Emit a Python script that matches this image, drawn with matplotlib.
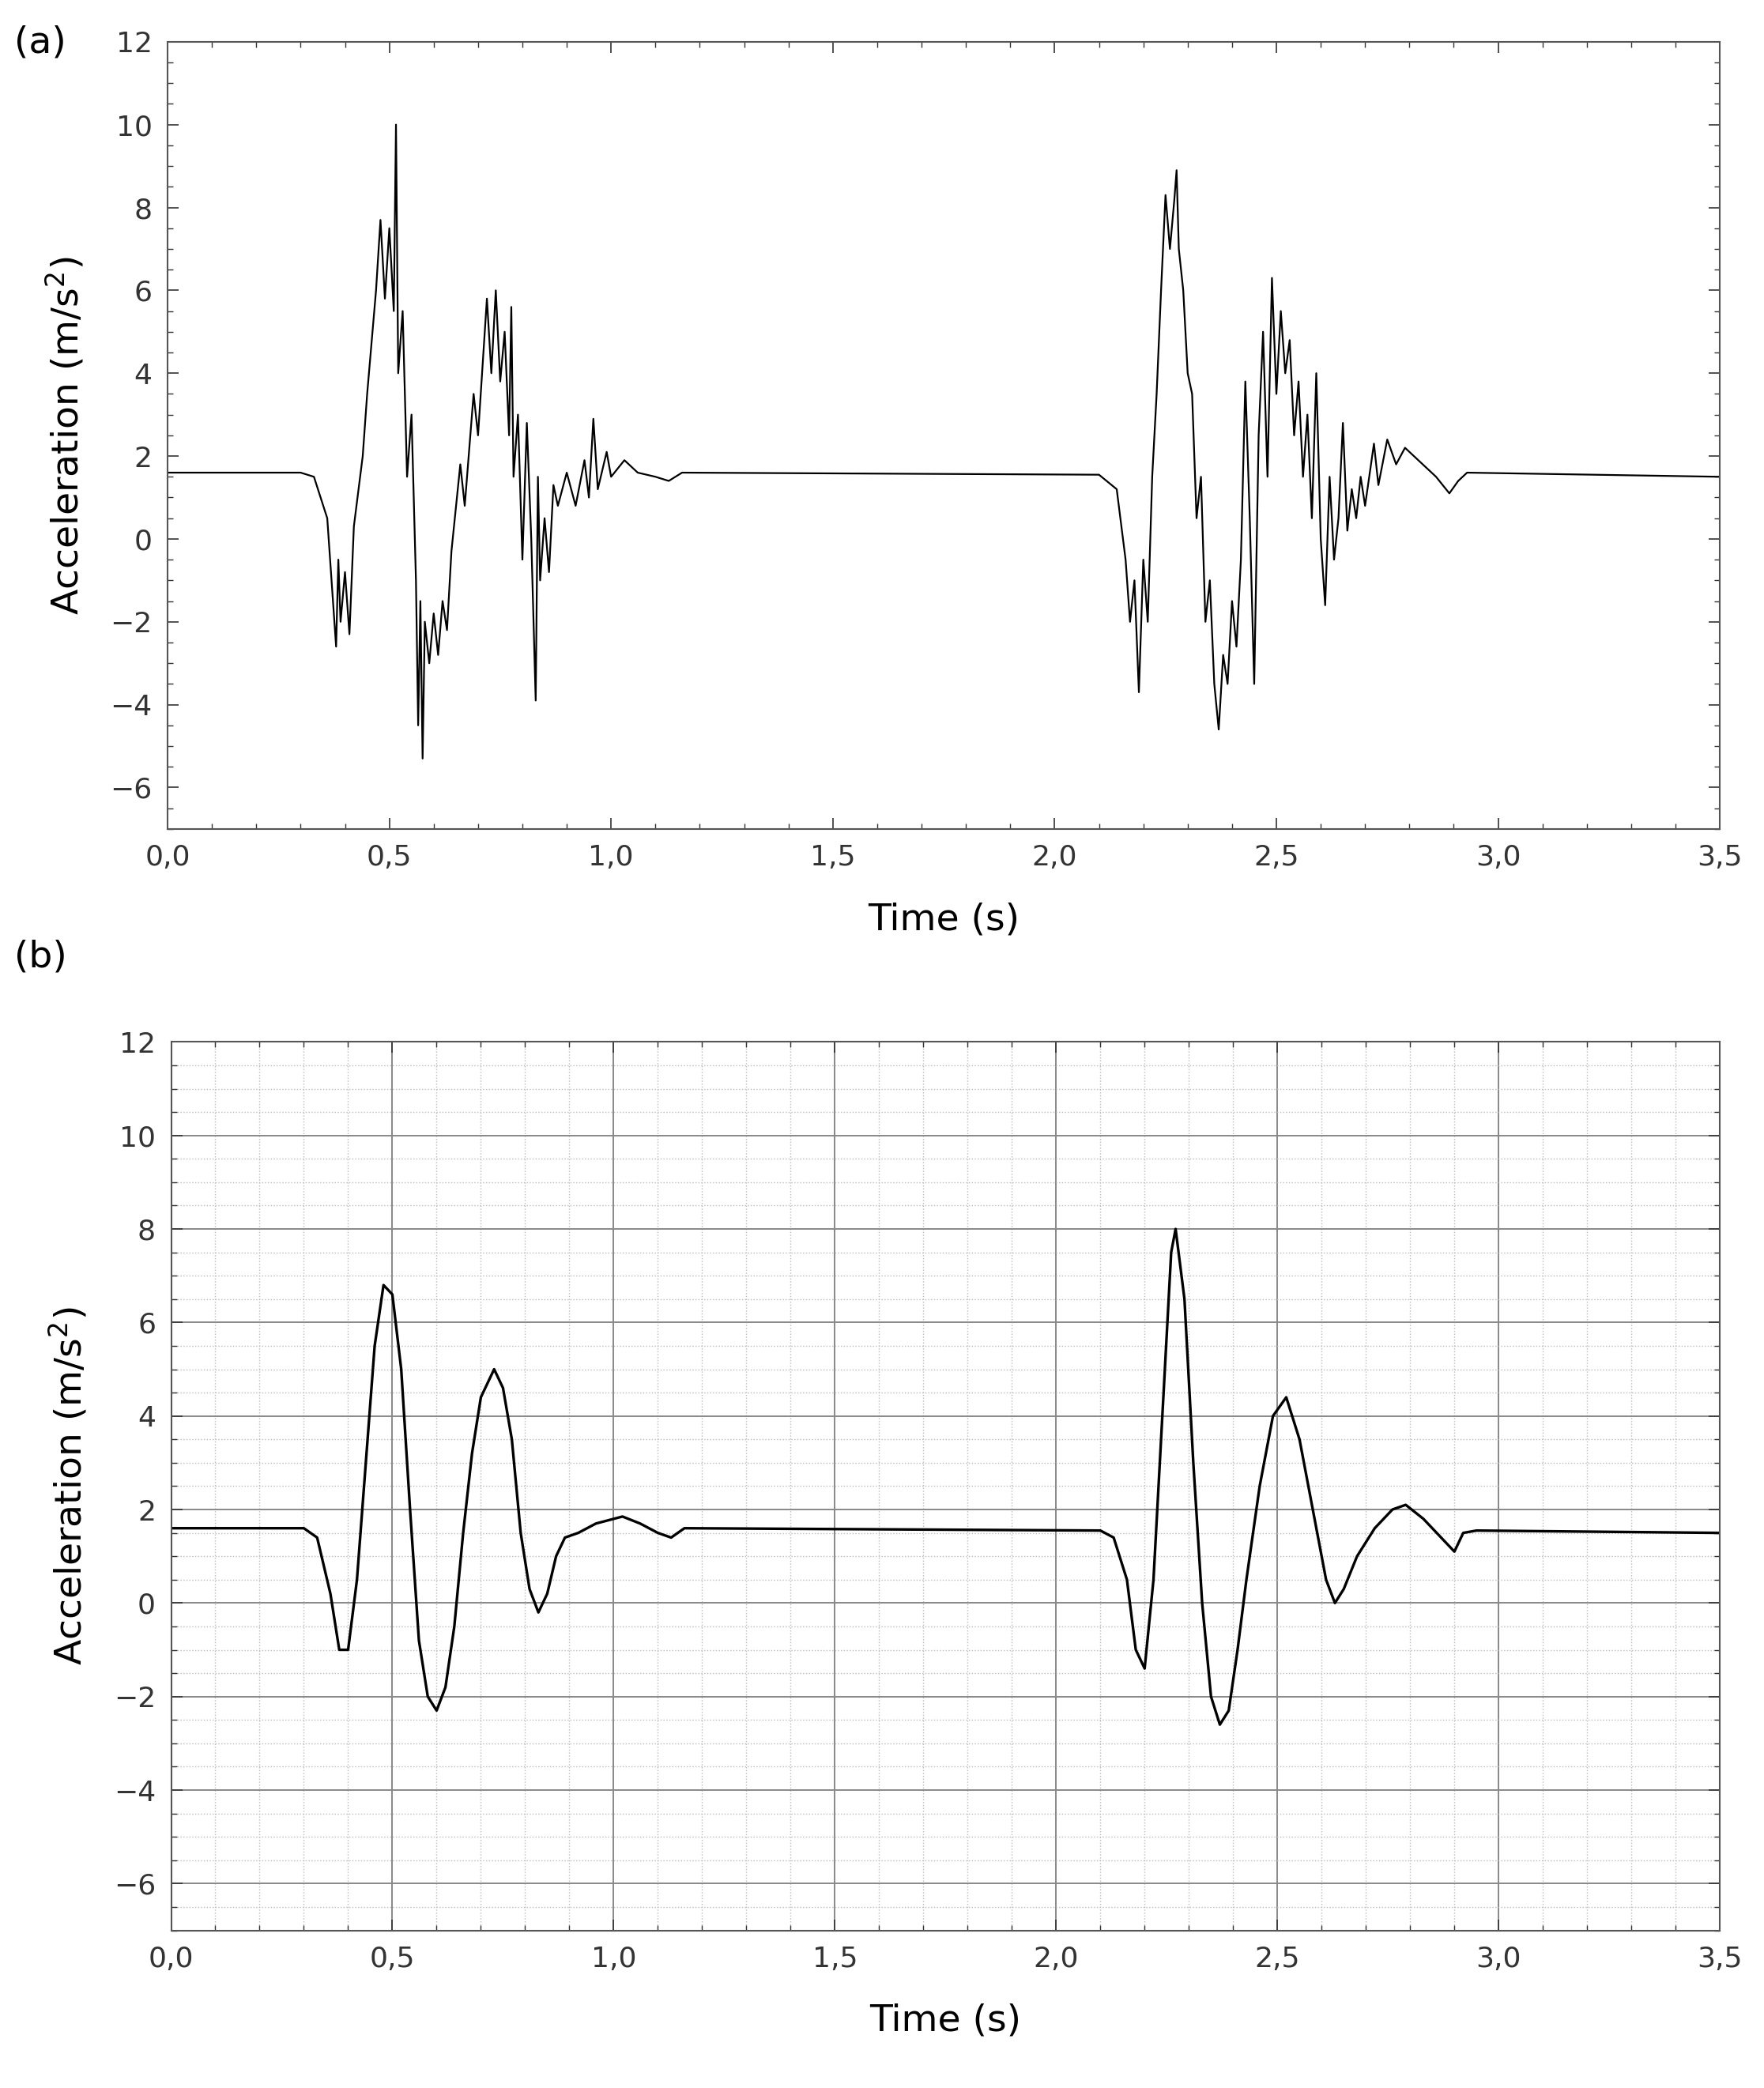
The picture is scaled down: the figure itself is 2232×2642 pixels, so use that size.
import matplotlib.pyplot as plt
from matplotlib.ticker import MultipleLocator, FuncFormatter

# --- data ---
t_raw = [0.0, 0.30, 0.33, 0.36, 0.38, 0.385, 0.39, 0.40, 0.41, 0.42, 0.44, 0.45, 0.47, 0.48,
         0.49, 0.50, 0.51, 0.515, 0.52, 0.53, 0.54, 0.55, 0.56, 0.565, 0.57, 0.575, 0.58,
         0.59, 0.60, 0.61, 0.62, 0.63, 0.64, 0.66, 0.67, 0.69, 0.70, 0.72, 0.73, 0.74, 0.75,
         0.76, 0.77, 0.775, 0.78, 0.79, 0.80, 0.81, 0.82, 0.83, 0.835, 0.84, 0.85, 0.86,
         0.87, 0.88, 0.90, 0.92, 0.94, 0.95, 0.96, 0.97, 0.99, 1.00, 1.03, 1.06, 1.10, 1.13,
         1.16, 2.10, 2.14, 2.16, 2.17, 2.18, 2.19, 2.20, 2.21, 2.22, 2.23, 2.24, 2.25, 2.26,
         2.27, 2.275, 2.28, 2.29, 2.30, 2.31, 2.32, 2.33, 2.34, 2.35, 2.36, 2.37, 2.38, 2.39,
         2.40, 2.41, 2.42, 2.43, 2.44, 2.45, 2.46, 2.47, 2.48, 2.49, 2.50, 2.51, 2.52, 2.53,
         2.54, 2.55, 2.56, 2.57, 2.58, 2.59, 2.60, 2.61, 2.62, 2.63, 2.64, 2.65, 2.66, 2.67,
         2.68, 2.69, 2.70, 2.72, 2.73, 2.75, 2.77, 2.79, 2.82, 2.86, 2.89, 2.91, 2.93, 3.50]
a_raw = [1.6, 1.6, 1.5, 0.5, -2.6, -0.5, -2.0, -0.8, -2.3, 0.3, 2.0, 3.5, 6.0, 7.7,
         5.8, 7.5, 5.5, 10.0, 4.0, 5.5, 1.5, 3.0, -1.0, -4.5, -1.5, -5.3, -2.0,
         -3.0, -1.8, -2.8, -1.5, -2.2, -0.3, 1.8, 0.8, 3.5, 2.5, 5.8, 4.0, 6.0, 3.8,
         5.0, 2.5, 5.6, 1.5, 3.0, -0.5, 2.8, 0.0, -3.9, 1.5, -1.0, 0.5, -0.8,
         1.3, 0.8, 1.6, 0.8, 1.9, 1.0, 2.9, 1.2, 2.1, 1.5, 1.9, 1.6, 1.5, 1.4,
         1.6, 1.55, 1.2, -0.5, -2.0, -1.0, -3.7, -0.5, -2.0, 1.5, 3.5, 6.0, 8.3, 7.0,
         8.2, 8.9, 7.0, 6.0, 4.0, 3.5, 0.5, 1.5, -2.0, -1.0, -3.5, -4.6, -2.8, -3.5,
         -1.5, -2.6, -0.5, 3.8, 0.5, -3.5, 2.5, 5.0, 1.5, 6.3, 3.5, 5.5, 4.0, 4.8,
         2.5, 3.8, 1.5, 3.0, 0.5, 4.0, 0.0, -1.6, 1.5, -0.5, 0.5, 2.8, 0.2, 1.2,
         0.5, 1.5, 0.8, 2.3, 1.3, 2.4, 1.8, 2.2, 1.9, 1.5, 1.1, 1.4, 1.6, 1.5]

t_filt = [0.0, 0.30, 0.33, 0.36, 0.38, 0.40, 0.42, 0.44, 0.46, 0.48, 0.50, 0.52, 0.54, 0.56,
          0.58, 0.60, 0.62, 0.64, 0.66, 0.68, 0.70, 0.73, 0.75, 0.77, 0.79, 0.81, 0.83, 0.85,
          0.87, 0.89, 0.92, 0.96, 1.02, 1.06, 1.10, 1.13, 1.16, 2.10, 2.13, 2.16, 2.18, 2.20,
          2.22, 2.24, 2.26, 2.27, 2.29, 2.31, 2.33, 2.35, 2.37, 2.39, 2.41, 2.43, 2.46, 2.49,
          2.52, 2.55, 2.58, 2.61, 2.63, 2.65, 2.68, 2.72, 2.76, 2.79, 2.83, 2.87, 2.90, 2.92,
          2.95, 3.50]
a_filt = [1.6, 1.6, 1.4, 0.2, -1.0, -1.0, 0.5, 3.0, 5.5, 6.8, 6.6, 5.0, 2.0, -0.8,
          -2.0, -2.3, -1.8, -0.5, 1.5, 3.2, 4.4, 5.0, 4.6, 3.5, 1.5, 0.3, -0.2, 0.2,
          1.0, 1.4, 1.5, 1.7, 1.85, 1.7, 1.5, 1.4, 1.6, 1.55, 1.4, 0.5, -1.0, -1.4,
          0.5, 4.0, 7.5, 8.0, 6.5, 3.0, 0.0, -2.0, -2.6, -2.3, -1.0, 0.5, 2.5, 4.0,
          4.4, 3.5, 2.0, 0.5, 0.0, 0.3, 1.0, 1.6, 2.0, 2.1, 1.8, 1.4, 1.1, 1.5,
          1.55, 1.5]

FS_TICK = 26
FS_LABEL = 34
comma = FuncFormatter(lambda v, p: f"{v:.1f}".replace(".", ","))

fig = plt.figure(figsize=(22.32, 26.42), dpi=100)
ax_a = fig.add_axes([0.095, 0.603, 0.880, 0.377])
ax_b = fig.add_axes([0.097, 0.0755, 0.878, 0.4255])

ax_a.plot(t_raw, a_raw, color='black', lw=1.6)
ax_b.plot(t_filt, a_filt, color='black', lw=2.4)

for ax in (ax_a, ax_b):
    ax.set_xlim(0, 3.5)
    ax.set_ylim(-7, 12)
    ax.xaxis.set_major_locator(MultipleLocator(0.5))
    ax.xaxis.set_minor_locator(MultipleLocator(0.1))
    ax.yaxis.set_major_locator(MultipleLocator(2))
    ax.yaxis.set_minor_locator(MultipleLocator(0.5))
    ax.xaxis.set_major_formatter(comma)
    ax.tick_params(which='both', direction='in', top=True, right=True,
                   labelsize=FS_TICK, colors='#333333')
    ax.tick_params(which='major', length=10, width=1.2, pad=14)
    ax.tick_params(which='minor', length=5, width=1)
    ax.set_xlabel("Time (s)", fontsize=FS_LABEL, labelpad=28)
    ax.set_ylabel("Acceleration (m/s$^2$)", fontsize=FS_LABEL, labelpad=22)
    for s in ax.spines.values():
        s.set_color('#555555')
        s.set_linewidth(1.5)

ax_b.grid(which='major', color='#888888', lw=1.4)
ax_b.grid(which='minor', color='#bbbbbb', lw=1, linestyle=':')

fig.text(0.008, 0.975, "(a)", fontsize=FS_LABEL)
fig.text(0.008, 0.537, "(b)", fontsize=FS_LABEL)

fig.savefig("out.png", dpi=100)
